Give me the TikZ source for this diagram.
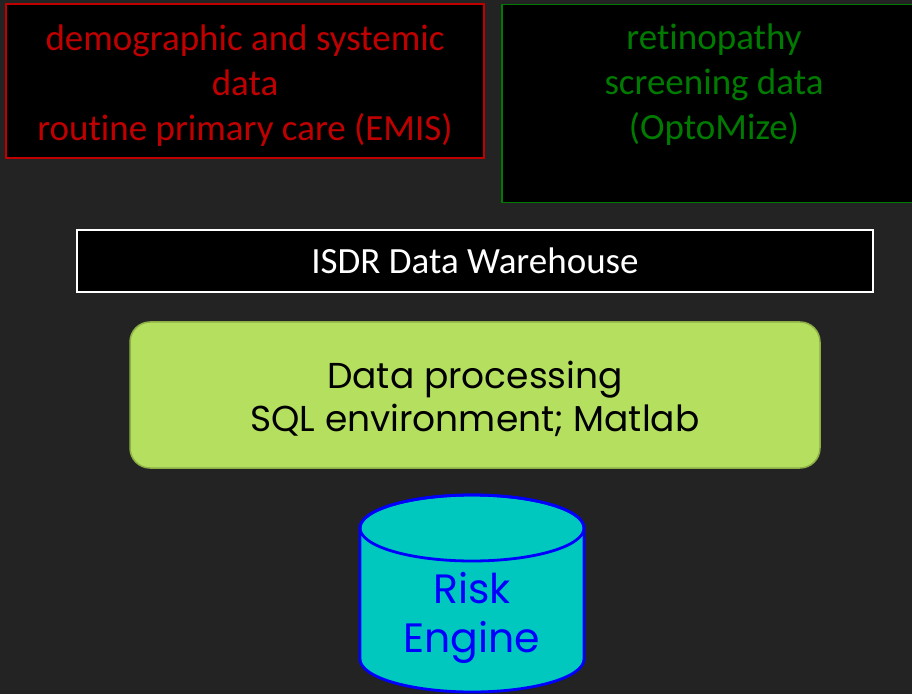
\documentclass[tikz,border=0pt]{standalone}
\usepackage{fontspec}
\setmainfont{Carlito}[Ligatures=NoCommon]
\newfontfamily\geofont{Poppins}
\definecolor{bgc}{HTML}{232323}
\definecolor{redc}{HTML}{C00000}
\definecolor{greenc}{HTML}{007A00}
\definecolor{limec}{HTML}{B5DF5F}
\definecolor{limeb}{HTML}{8DAF45}
\definecolor{cyanc}{HTML}{00C8BE}
\definecolor{bluec}{HTML}{0000FF}
\tikzset{
  srcbox/.style={draw, fill=black, line width=1.5pt, align=center, inner sep=0pt},
  procbox/.style={draw=limeb, fill=limec, line width=1.5pt, rounded corners=20pt, align=center, inner sep=0pt},
}
\begin{document}
\begin{tikzpicture}[x=1pt,y=1pt]
\fill[bgc] (0,0) rectangle (912,694);
\useasboundingbox (0,0) rectangle (912,694);
\begin{scope}
\clip (0,0) rectangle (912,694);
% red source box
\node[srcbox, draw=redc, minimum width=478pt, minimum height=154pt] (emis) at (245,613) {};
\node[text=redc, align=center, font=\fontsize{37}{45}\selectfont] (emistext) at (245,608)
  {demographic and systemic\\data\\routine primary care (EMIS)};
% green source box (extends past right edge)
\node[srcbox, draw=greenc, minimum width=426pt, minimum height=198pt, anchor=north west] (opto) at (501,690) {};
\node[text=greenc, align=center, font=\fontsize{37}{45}\selectfont] (optotext) at (714,609)
  {retinopathy\\screening data\\(OptoMize)};
\end{scope}
% warehouse
\node[srcbox, draw=white, line width=1.2pt, minimum width=796pt, minimum height=62pt] (isdr) at (475,433) {};
\node[text=white, font=\fontsize{37}{45}\selectfont] (isdrtext) at (475,433) {ISDR Data Warehouse};
% processing
\node[procbox, minimum width=690pt, minimum height=146pt] (proc) at (475,299) {};
\node[align=center, font=\geofont\fontsize{36}{43}\selectfont] (proctext) at (475,295)
  {Data processing\\SQL environment; Matlab};
% risk engine cylinder
\coordinate (cyltop) at (472,166);
\coordinate (cylbot) at (472,35);
\filldraw[draw=bluec, fill=cyanc, line width=2.8pt]
  ([xshift=-112pt]cyltop) -- ([xshift=-112pt]cylbot)
  arc[start angle=180, end angle=360, x radius=112pt, y radius=33pt]
  -- ([xshift=112pt]cyltop)
  arc[start angle=0, end angle=180, x radius=112pt, y radius=33pt] -- cycle;
\draw[draw=bluec, line width=2.8pt] (cyltop) ellipse[x radius=112pt, y radius=33pt];
\node[text=bluec, align=center, font=\geofont\fontsize{41}{49}\selectfont] (risk) at (472,76)
  {Risk\\Engine};
\end{tikzpicture}
\end{document}
